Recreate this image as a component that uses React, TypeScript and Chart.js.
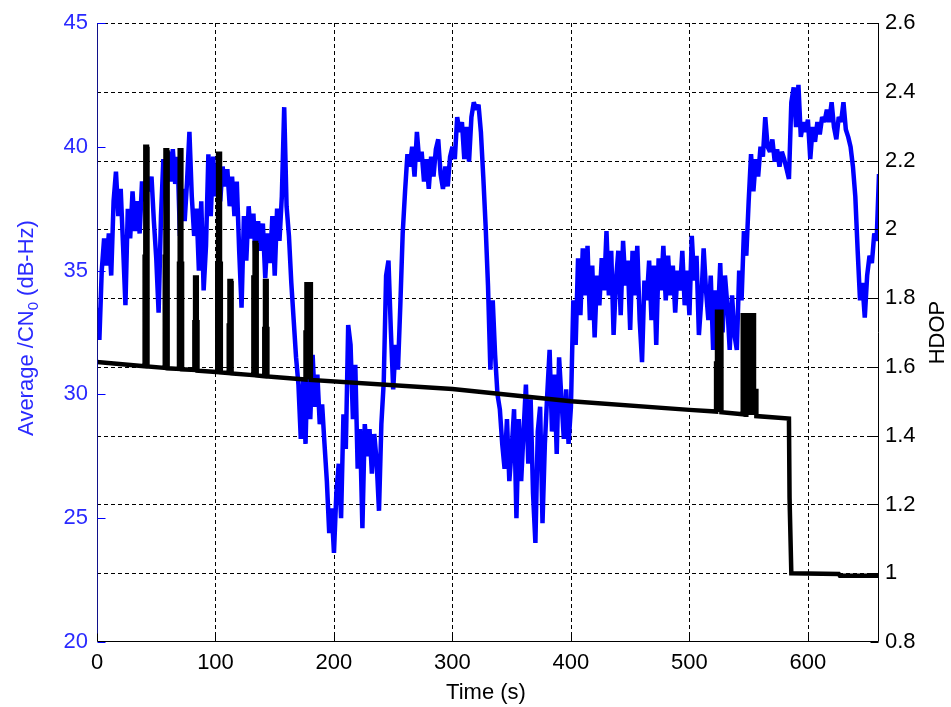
import { useEffect, useRef } from 'react';
import { Chart, registerables } from 'chart.js';

Chart.register(...registerables);

// ---- Data -------------------------------------------------------------
const SAMPLE_PERIOD_S = 2;

// Average C/N0 (dB-Hz), one value every SAMPLE_PERIOD_S seconds from t = 0 s
const cn0Values = [
  33.5, 32.2, 35.0, 36.3, 35.2, 36.5, 34.8, 37.8, 39.0, 37.2, // 0
  38.3, 36.0, 33.6, 37.5, 36.3, 38.2, 36.6, 37.8, 36.5, 38.6, // 20
  37.8, 38.7, 38.2, 38.8, 37.0, 35.5, 33.3, 37.2, 39.5, 38.3, // 40
  39.8, 38.6, 39.9, 38.5, 39.6, 36.4, 38.3, 37.0, 38.6, 40.6, // 60
  38.0, 36.4, 37.5, 35.0, 37.8, 34.2, 36.0, 39.7, 37.2, 39.6, // 80
  38.0, 39.3, 37.8, 39.2, 38.4, 39.1, 37.6, 38.8, 37.2, 38.6, // 100
  35.8, 33.5, 37.2, 35.4, 37.6, 36.3, 37.3, 35.3, 37.0, 35.8, // 120
  36.9, 34.7, 36.5, 35.3, 37.2, 34.8, 37.5, 36.2, 38.0, 41.6, // 140
  37.6, 36.4, 34.5, 33.0, 31.5, 30.4, 28.2, 30.6, 28.0, 31.8, // 160
  29.0, 31.6, 29.5, 30.8, 28.8, 29.6, 28.0, 26.5, 24.4, 25.4, // 180
  23.6, 26.0, 27.2, 25.0, 29.2, 27.8, 32.8, 32.0, 29.0, 31.2, // 200
  27.0, 28.6, 24.6, 28.8, 27.5, 28.6, 26.8, 28.4, 27.3, 25.3, // 220
  28.8, 30.5, 34.8, 35.4, 32.6, 30.2, 32.0, 31.0, 33.6, 36.5, // 240
  38.2, 39.7, 39.2, 40.0, 38.8, 40.6, 39.4, 39.8, 38.6, 39.5, // 260
  38.3, 39.6, 38.8, 39.9, 40.3, 38.9, 38.3, 39.2, 38.4, 39.6, // 280
  40.0, 39.5, 41.2, 40.6, 41.0, 39.5, 40.8, 39.4, 41.2, 41.8, // 300
  41.5, 41.7, 40.6, 38.8, 36.8, 34.4, 31.0, 33.8, 31.6, 30.0, // 320
  29.4, 28.0, 27.0, 29.0, 26.5, 27.8, 29.4, 25.0, 29.0, 26.5, // 340
  28.5, 30.4, 27.2, 29.8, 26.0, 24.0, 28.5, 29.5, 24.8, 28.0, // 360
  30.0, 31.8, 28.5, 30.8, 27.6, 31.5, 29.8, 28.2, 30.2, 28.0, // 380
  29.5, 33.8, 32.0, 35.5, 33.2, 35.9, 34.0, 36.0, 33.0, 35.2, // 400
  32.3, 34.8, 33.6, 35.5, 34.2, 36.6, 34.0, 35.8, 32.4, 34.6, // 420
  35.8, 33.2, 36.2, 34.4, 35.4, 32.6, 35.8, 34.0, 36.0, 33.0, // 440
  31.3, 34.6, 33.8, 35.4, 33.0, 35.2, 32.0, 35.5, 34.2, 36.0, // 460
  33.8, 35.6, 34.0, 35.2, 33.3, 35.0, 34.2, 35.8, 33.6, 35.0, // 480
  33.2, 36.4, 34.6, 35.6, 32.4, 33.8, 35.9, 34.2, 33.0, 34.8, // 500
  31.8, 34.2, 33.0, 35.3, 32.5, 34.8, 33.6, 31.8, 34.0, 32.4, // 520
  31.8, 35.0, 33.8, 36.6, 35.6, 37.8, 39.7, 38.2, 39.5, 38.8, // 540
  40.0, 39.6, 41.2, 40.0, 39.8, 40.3, 39.4, 39.9, 39.2, 39.8, // 560
  39.5, 39.1, 38.7, 41.8, 42.4, 40.8, 42.5, 40.4, 41.0, 40.6, // 580
  41.1, 39.5, 40.8, 40.2, 41.0, 40.5, 41.2, 41.0, 41.5, 41.0, // 600
  41.8, 40.8, 40.3, 41.2, 41.0, 41.8, 40.7, 40.4, 40.0, 39.2, // 620
  38.0, 35.8, 33.8, 34.5, 33.1, 34.8, 35.6, 35.3, 36.5, 36.2, // 640
  38.9, // 660
];

// HDOP trace: [time (s), HDOP] breakpoints
const hdopBreakpoints: [number, number][] = [
  [0, 1.614],
  [40.2, 1.602], [40.2, 1.92], [40.8, 1.92], [40.8, 2.24], [42.2, 2.24], [42.2, 1.92], [42.8, 1.92], [42.8, 1.601],
  [57.2, 1.597], [57.2, 1.92], [57.8, 1.92], [57.8, 2.23], [59.2, 2.23], [59.2, 1.92], [59.8, 1.92], [59.8, 1.596],
  [69.2, 1.594], [69.2, 1.9], [69.8, 1.9], [69.8, 2.23], [71.2, 2.23], [71.2, 1.9], [71.8, 1.9], [71.8, 1.593],
  [82.2, 1.591], [82.2, 1.73], [82.8, 1.73], [82.8, 1.86], [84.2, 1.86], [84.2, 1.73], [84.8, 1.73], [84.8, 1.589],
  [101.5, 1.585], [101.5, 1.9], [102.2, 1.9], [102.2, 2.22], [103.8, 2.22], [103.8, 1.9], [104.5, 1.9], [104.5, 1.584],
  [111.2, 1.582], [111.2, 1.72], [111.8, 1.72], [111.8, 1.85], [113.2, 1.85], [113.2, 1.72], [113.8, 1.72], [113.8, 1.581],
  [132, 1.576], [132, 1.86], [133, 1.86], [133, 1.96], [134.3, 1.96], [134.3, 1.84], [135, 1.84], [135, 1.575],
  [141.2, 1.573], [141.2, 1.71], [141.8, 1.71], [141.8, 1.85], [143.2, 1.85], [143.2, 1.71], [143.8, 1.71], [143.8, 1.572],
  [176, 1.563], [176, 1.7], [176.8, 1.7], [176.8, 1.84], [178.4, 1.84], [178.4, 1.563], [178.9, 1.563], [178.9, 1.84], [180.5, 1.84], [180.5, 1.562],
  [300, 1.536], [400, 1.5], [500, 1.475],
  [522.5, 1.47], [522.5, 1.61], [523.3, 1.61], [523.3, 1.76], [525.2, 1.76], [525.2, 1.469], [525.6, 1.469], [525.6, 1.76], [527, 1.76], [527, 1.468],
  [545, 1.462], [545, 1.75], [547.5, 1.75], [547.5, 1.461], [548, 1.461], [548, 1.75], [550.5, 1.75], [550.5, 1.46], [551, 1.46], [551, 1.75],
  [553, 1.75], [553, 1.46], [553.3, 1.46], [553.3, 1.75], [554.5, 1.75], [554.5, 1.53], [556.5, 1.53], [556.5, 1.457],
  [584, 1.45], [584.5, 1.22], [586, 1.0], [626, 0.998], [627, 0.993], [660, 0.993],
];

const xTicks = [0, 100, 200, 300, 400, 500, 600];
const cn0Ticks = [20, 25, 30, 35, 40, 45];
const hdopTicks = [0.8, 1.0, 1.2, 1.4, 1.6, 1.8, 2.0, 2.2, 2.4, 2.6];
const hdopTickLabels = ['0.8', '1', '1.2', '1.4', '1.6', '1.8', '2', '2.2', '2.4', '2.6'];

const xTitle = 'Time (s)';
const leftTitleParts = ['Average /CN', '0', ' (dB-Hz)'];
const rightTitle = 'HDOP';

// ---- Styling -----------------------------------------------------------
const FONT = '"Liberation Sans", Arial, sans-serif';
const BLUE = '#0000ff';
const BLUE_TEXT = '#2a2aff';
const LINE_WIDTH = 4.5;

const framePlugin = {
  id: 'matlabFrame',
  beforeDatasetsDraw(chart: any) {
    const { ctx, chartArea: a, scales } = chart;
    ctx.save();
    ctx.strokeStyle = '#000';
    ctx.lineWidth = 1;
    ctx.setLineDash([4, 3]);
    for (const v of xTicks) {
      if (v === 0) continue;
      const x = Math.round(scales.x.getPixelForValue(v)) + 0.5;
      ctx.beginPath();
      ctx.moveTo(x, a.top);
      ctx.lineTo(x, a.bottom);
      ctx.stroke();
    }
    for (const v of hdopTicks) {
      if (v === 0.8) continue;
      const y = Math.round(scales.y1.getPixelForValue(v)) + 0.5;
      ctx.beginPath();
      ctx.moveTo(a.left, y);
      ctx.lineTo(a.right, y);
      ctx.stroke();
    }
    ctx.restore();
  },
  afterDatasetsDraw(chart: any) {
    const { ctx, chartArea: a, scales } = chart;
    const L = Math.round(a.left) + 0.5;
    const R = Math.round(a.right) - 0.5;
    const B = Math.round(a.bottom) - 0.5;
    const T = Math.round(a.top);
    const TICK = 8;
    ctx.save();
    ctx.setLineDash([]);
    ctx.lineWidth = 1;
    ctx.strokeStyle = '#000';
    ctx.beginPath();
    ctx.moveTo(L, B);
    ctx.lineTo(R, B);
    ctx.moveTo(R, T);
    ctx.lineTo(R, B);
    ctx.stroke();
    ctx.strokeStyle = '#10108a';
    ctx.beginPath();
    ctx.moveTo(L, T);
    ctx.lineTo(L, B);
    ctx.stroke();
    ctx.strokeStyle = '#000';
    ctx.beginPath();
    for (const v of xTicks) {
      const x = Math.round(scales.x.getPixelForValue(v)) + 0.5;
      ctx.moveTo(x, B);
      ctx.lineTo(x, B - TICK);
    }
    for (const v of hdopTicks) {
      const y = Math.round(scales.y1.getPixelForValue(v)) + 0.5;
      ctx.moveTo(R, y);
      ctx.lineTo(R - TICK, y);
    }
    ctx.stroke();
    ctx.strokeStyle = BLUE;
    ctx.beginPath();
    for (const v of cn0Ticks) {
      const y = Math.round(scales.y.getPixelForValue(v)) + 0.5;
      ctx.moveTo(L, y);
      ctx.lineTo(L + TICK, y);
    }
    ctx.stroke();
    ctx.restore();
  },
  afterDraw(chart: any) {
    const { ctx, chartArea: a } = chart;
    ctx.save();
    ctx.font = `22px ${FONT}`;
    ctx.fillStyle = '#000';
    ctx.textAlign = 'center';
    ctx.textBaseline = 'middle';
    ctx.fillText(xTitle, (a.left + a.right) / 2 - 2, 693);

    ctx.save();
    ctx.translate(27, 328);
    ctx.rotate(-Math.PI / 2);
    ctx.fillStyle = BLUE_TEXT;
    ctx.textAlign = 'left';
    ctx.font = `22px ${FONT}`;
    const w1 = ctx.measureText(leftTitleParts[0]).width;
    const w3 = ctx.measureText(leftTitleParts[2]).width;
    ctx.font = `15px ${FONT}`;
    const w2 = ctx.measureText(leftTitleParts[1]).width;
    const sx = -(w1 + w2 + w3) / 2;
    ctx.font = `22px ${FONT}`;
    ctx.fillText(leftTitleParts[0], sx, 0);
    ctx.font = `15px ${FONT}`;
    ctx.fillText(leftTitleParts[1], sx + w1, 7);
    ctx.font = `22px ${FONT}`;
    ctx.fillText(leftTitleParts[2], sx + w1 + w2, 0);
    ctx.restore();

    ctx.save();
    ctx.translate(938, (a.top + a.bottom) / 2);
    ctx.rotate(-Math.PI / 2);
    ctx.fillStyle = '#000';
    ctx.textAlign = 'center';
    ctx.font = `22px ${FONT}`;
    ctx.fillText(rightTitle, 0, 0);
    ctx.restore();

    ctx.restore();
  },
};

export default function App() {
  const canvasRef = useRef<HTMLCanvasElement | null>(null);

  useEffect(() => {
    const canvas = canvasRef.current;
    if (!canvas) return;
    const tickFont = { family: FONT, size: 22 };
    const chart = new Chart(canvas, {
      type: 'line',
      data: {
        datasets: [
          {
            label: 'HDOP',
            data: hdopBreakpoints.map(([t, v]) => ({ x: t, y: v })),
            yAxisID: 'y1',
            borderColor: '#000',
            borderWidth: LINE_WIDTH,
            pointRadius: 0,
            tension: 0,
            borderJoinStyle: 'miter',
            borderCapStyle: 'butt',
          },
          {
            label: 'Average CN0',
            data: cn0Values.map((v, i) => ({ x: i * SAMPLE_PERIOD_S, y: v })),
            yAxisID: 'y',
            borderColor: BLUE,
            borderWidth: LINE_WIDTH,
            pointRadius: 0,
            tension: 0,
            borderJoinStyle: 'bevel',
          },
        ],
      },
      options: {
        responsive: false,
        animation: false,
        events: [],
        layout: { padding: { top: 23, left: 0, right: 0, bottom: 0 } },
        plugins: {
          legend: { display: false },
          tooltip: { enabled: false },
        },
        scales: {
          x: {
            type: 'linear',
            min: 0,
            max: 660,
            afterBuildTicks: (s: any) => {
              s.ticks = xTicks.map((value) => ({ value }));
            },
            afterFit: (s: any) => {
              s.height = 65;
            },
            grid: { display: false, drawTicks: false },
            border: { display: false },
            ticks: {
              color: '#000',
              font: tickFont,
              padding: 8,
              maxRotation: 0,
              autoSkip: false,
              callback: (v: any) => String(v),
            },
          },
          y: {
            type: 'linear',
            position: 'left',
            min: 20,
            max: 45,
            afterBuildTicks: (s: any) => {
              s.ticks = cn0Ticks.map((value) => ({ value }));
            },
            afterFit: (s: any) => {
              s.width = 97;
            },
            grid: { display: false, drawTicks: false },
            border: { display: false },
            ticks: {
              color: BLUE_TEXT,
              font: tickFont,
              padding: 9,
              autoSkip: false,
              callback: (v: any) => String(v),
            },
          },
          y1: {
            type: 'linear',
            position: 'right',
            min: 0.8,
            max: 2.6,
            afterBuildTicks: (s: any) => {
              s.ticks = hdopTicks.map((value) => ({ value }));
            },
            afterFit: (s: any) => {
              s.width = 72;
            },
            grid: { display: false, drawTicks: false },
            border: { display: false },
            ticks: {
              color: '#000',
              font: tickFont,
              padding: 6,
              autoSkip: false,
              callback: (_v: any, i: number) => hdopTickLabels[i],
            },
          },
        },
      },
      plugins: [framePlugin],
    } as any);
    return () => chart.destroy();
  }, []);

  return (
    <div style={{ position: 'fixed', left: 0, top: 0, width: 951, height: 707, background: '#fff' }}>
      <canvas ref={canvasRef} width={951} height={707} style={{ display: 'block' }} />
    </div>
  );
}
